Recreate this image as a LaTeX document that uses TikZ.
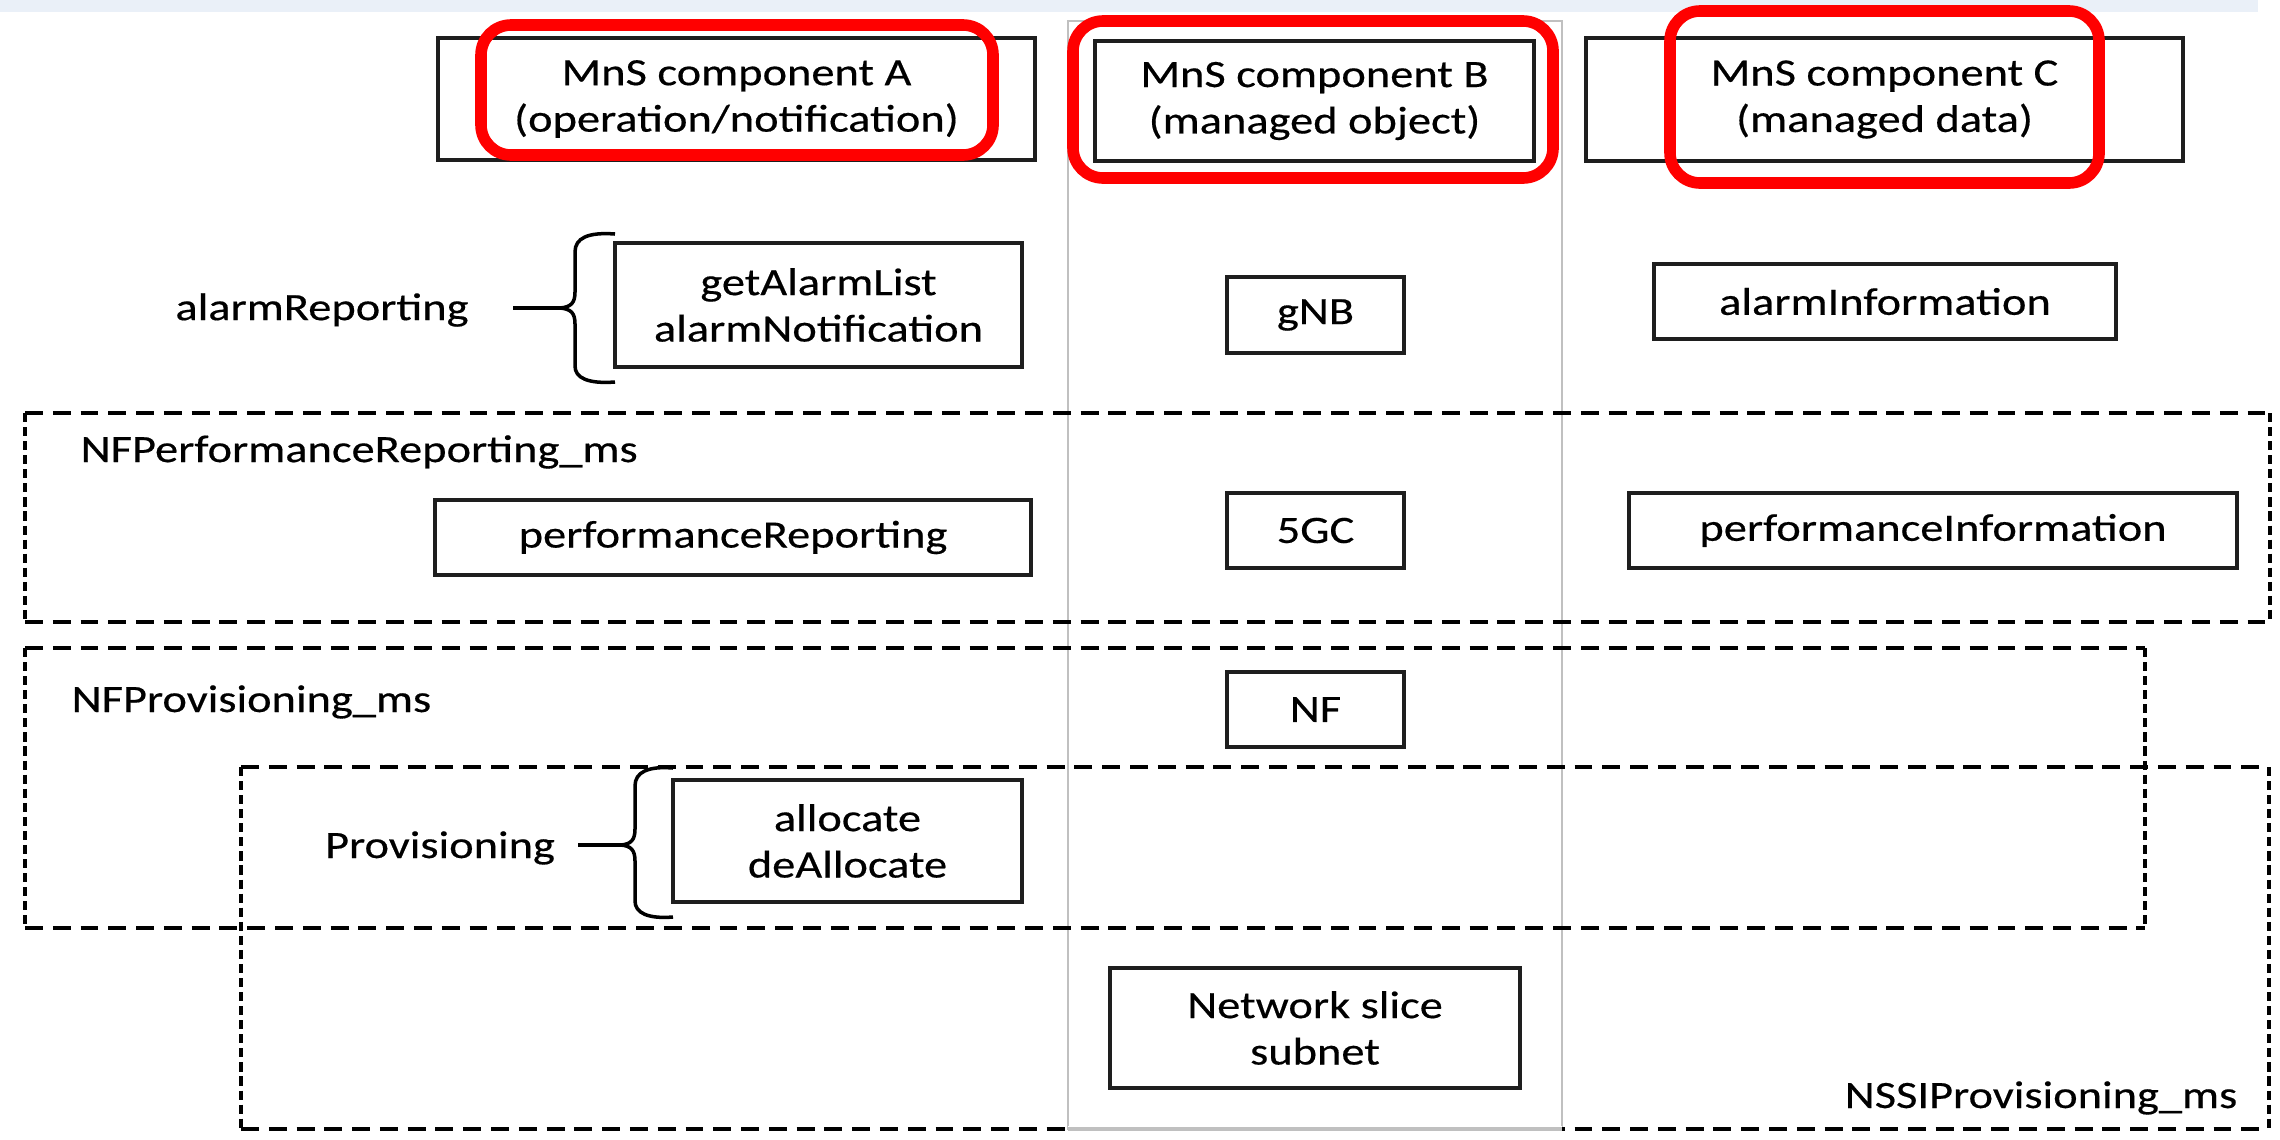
\documentclass[tikz,border=0pt]{standalone}
\usepackage[dvipsnames]{xcolor}
\usepackage{fontspec}
\setmainfont{Carlito}[FakeStretch=1.2, FakeBold=0.4]
\usepackage{tikz}
\usetikzlibrary{calc}

\definecolor{bandblue}{RGB}{234,240,248}
\definecolor{colgray}{RGB}{192,192,192}
\definecolor{boxline}{RGB}{30,30,30}

\newcommand{\mnsfont}{\fontsize{11pt}{13.2pt}\selectfont}

\tikzset{
    mnsbox/.style={draw=boxline, line width=1.1pt, align=center, inner sep=0pt, font=\mnsfont},
    redmark/.style={draw=red, line width=3.3pt, rounded corners=0.3cm},
    hdash/.style={line width=1.1pt, dash pattern=on 5.1pt off 2.8pt},
    vdash/.style={line width=1.0pt, dash pattern=on 2.6pt off 1.4pt},
    brc/.style={line width=1.0pt},
    lbl/.style={inner sep=0pt, font=\mnsfont}
}

\begin{document}
\begin{tikzpicture}[x=0.01cm, y=-0.01cm]

        \useasboundingbox (0,0) rectangle (2280,1139);
        \fill[white] (0,0) rectangle (2280,1139);
        \fill[bandblue] (0,0) rectangle (2258,12);

        % column of component B
        \draw[colgray, line width=0.8pt] (1068,21) coordinate(colTL) rectangle (1562,1129) coordinate(colBR);

        % dashed groups
        \draw[hdash] (25,413) coordinate(pfTL) -- (2270,413) coordinate(pfTR);
        \draw[hdash] (25,622) coordinate(pfBL) -- (2270,622) coordinate(pfBR);
        \draw[vdash] (pfTL) -- (pfBL);
        \draw[vdash] (pfTR) -- (pfBR);

        \draw[hdash] (25,648) coordinate(npTL) -- (2145,648) coordinate(npTR);
        \draw[hdash] (25,928) coordinate(npBL) -- (2145,928) coordinate(npBR);
        \draw[vdash] (npTL) -- (npBL);
        \draw[vdash] (npTR) -- (npBR);

        \draw[hdash] (241,767) coordinate(nsTL) -- (2269,767) coordinate(nsTR);
        \draw[hdash] (241,1129) coordinate(nsBL) -- (2269,1129) coordinate(nsBR);
        \draw[vdash] (nsTL) -- (nsBL);
        \draw[vdash] (nsTR) -- (nsBR);

        \draw[white, line width=1.8pt] (colTL |- colBR) -- (colBR);
        \draw[colgray, line width=0.9pt] (colTL |- colBR) -- (colBR);

        % header boxes
        \node[mnsbox, minimum width=5.97cm, minimum height=1.22cm] (hdrA) at (736.5,99) {MnS component A\\(operation/notification)};
        \node[mnsbox, minimum width=4.39cm, minimum height=1.20cm] (hdrB) at (1314.5,101) {MnS component B\\(managed object)};
        \node[mnsbox, minimum width=5.97cm, minimum height=1.23cm] (hdrC) at (1884.5,99.5) {MnS component C\\(managed data)};

        % alarm row
        \node[lbl] (alarmrep) at (322,310) {alarmReporting};
        \node[mnsbox, minimum width=4.07cm, minimum height=1.24cm] (alarmops) at (818.5,305) {getAlarmList\\alarmNotification};
        \node[mnsbox, minimum width=1.77cm, minimum height=0.76cm] (gnb) at (1315.5,315) {gNB};
        \node[mnsbox, minimum width=4.62cm, minimum height=0.75cm] (alarminfo) at (1885,301.5) {alarmInformation};

        \draw[brc] (615,234) .. controls (588,232) and (575,238) .. (575,252) -- (575,292)
            .. controls (575,303) and (571,307) .. (560,308) coordinate(brAtip)
            .. controls (571,309) and (575,313) .. (575,324) -- (575,366)
            .. controls (575,378) and (588,384) .. (615,382);
        \draw[brc] (513,308) -- (brAtip);

        % performance row
        \node[lbl, anchor=west] (perflbl) at (80,452) {NFPerformanceReporting\_ms};
        \node[mnsbox, minimum width=5.96cm, minimum height=0.75cm] (perfrep) at (733,537.5) {performanceReporting};
        \node[mnsbox, minimum width=1.77cm, minimum height=0.75cm] (fivegc) at (1315.5,530.5) {5GC};
        \node[mnsbox, minimum width=6.08cm, minimum height=0.75cm] (perfinfo) at (1933,530.5) {performanceInformation};

        % provisioning rows
        \node[lbl, anchor=west] (provlbl) at (71,702) {NFProvisioning\_ms};
        \node[mnsbox, minimum width=1.77cm, minimum height=0.75cm] (nf) at (1315.5,709.5) {NF};

        \node[lbl] (provop) at (440,848) {Provisioning};
        \node[mnsbox, minimum width=3.49cm, minimum height=1.22cm] (allocops) at (847.5,841) {allocate\\deAllocate};

        \draw[brc] (673,768) .. controls (648,766) and (635,772) .. (635,786) -- (635,829)
            .. controls (635,840) and (631,844) .. (621,845) coordinate(brBtip)
            .. controls (631,846) and (635,850) .. (635,861) -- (635,901)
            .. controls (635,913) and (648,919) .. (673,917);
        \draw[brc] (578,845) -- (brBtip);

        \node[mnsbox, minimum width=4.10cm, minimum height=1.20cm] (nssubnet) at (1315,1028) {Network slice\\subnet};
        \node[lbl, anchor=east] (nssilbl) at (2238,1098) {NSSIProvisioning\_ms};

        % highlight marks
        \draw[redmark] (481,25) rectangle (993,155);
        \draw[redmark] (1073,21) rectangle (1553,178);
        \draw[redmark] (1670,11) rectangle (2099,183);

    \end{tikzpicture}
\end{document}
